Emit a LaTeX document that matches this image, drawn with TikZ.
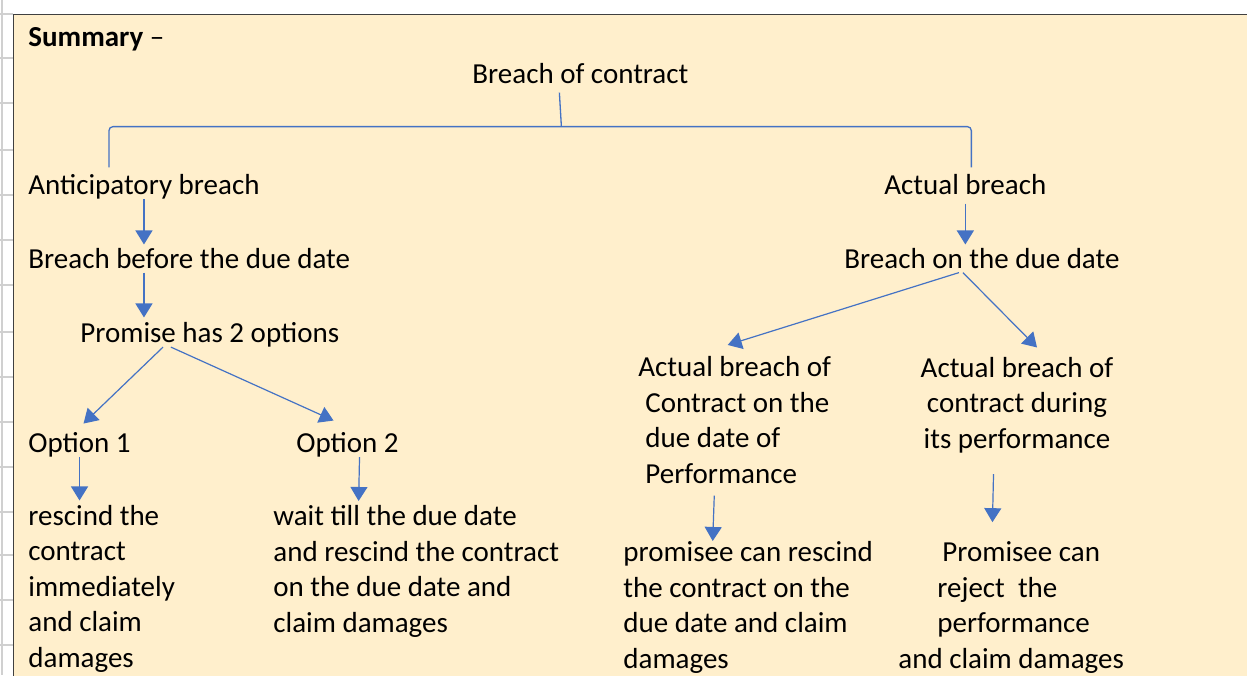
\documentclass[tikz,border=0pt]{standalone}
\usepackage{fontspec}
\setmainfont{Carlito}
\usetikzlibrary{arrows.meta,calc}
\definecolor{notefill}{HTML}{FFEFCC}
\definecolor{arrblue}{HTML}{4472C4}
\definecolor{gridgray}{HTML}{D0D0D0}
\definecolor{framegray}{HTML}{404040}
\tikzset{
  txt/.style={anchor=base west,inner sep=0pt,align=left,font=\fontsize{14.5}{17.75}\selectfont},
  ctxt/.style={txt,anchor=base,align=center},
  arr/.style={-{Triangle[length=7pt,width=8.5pt]},arrblue,line width=0.6pt},
  brk/.style={arrblue,line width=0.65pt,rounded corners=2pt}
}
\begin{document}
\begin{tikzpicture}[x=0.5pt,y=-0.5pt]
  \useasboundingbox (0,0) rectangle (1247,675);
  % Sheet grid at the left
  \draw[gridgray,line width=1pt] (1.5,0) -- (1.5,675);
  \foreach \gy in {14,58,103,150,195,240,285,332,377,422,467,512,555,600,645}
    \draw[gridgray,line width=1pt] (0,\gy) -- (13,\gy);
  % Note box
  \draw[framegray,fill=notefill,line width=0.75pt] (13.5,14.5) rectangle (1260,690);

  % Headings
  \node[txt] (sum) at (28,46) {\textbf{Summary} –};
  \node[txt] (boc) at (472,83) {Breach of contract};
  \node[txt] (ant) at (28,194) {Anticipatory breach};
  \node[txt] (act) at (884,194) {Actual breach};
  \node[txt] (bbd) at (28,268) {Breach before the due date};
  \node[txt] (bod) at (844,268) {Breach on the due date};

  % Anticipatory branch (multi-line nodes sit on their last line)
  \node[txt] (prm) at (80,342) {Promise has 2 options};
  \node[txt] (op1) at (28,452) {Option 1};
  \node[txt] (op2) at (296,452) {Option 2};
  \node[txt] (rsc) at (28,667) {rescind the\\contract\\immediately\\and claim\\damages};
  \node[txt] (wt) at (273,632) {wait till the due date\\and rescind the contract\\on the due date and\\claim damages};

  % Actual branch
  \node[txt] (ab1) at (638,483) {Actual breach of\\\hspace*{3.5pt}Contract on the\\\hspace*{3.5pt}due date of\\\hspace*{3.5pt}Performance};
  \node[ctxt] (ab2) at (1017,448) {Actual breach of\\contract during\\its performance};
  \node[txt] (prs) at (623,668) {promisee can rescind\\the contract on the\\due date and claim\\damages};
  \node[txt] (rej) at (937,668) {\hspace*{2.5pt}Promisee can\\reject\ \ the\\performance\\\hspace*{-19.5pt}and claim damages};

  % Top bracket
  \draw[brk] ($(boc.south)+(-21,9)$) -- ($(boc.south)+(-19,43)$);
  \draw[brk] ($(ant.north)+(-35,-6)$) |- ($(boc.south)+(0,43)$) -| ($(act.north)+(6,-6)$);

  % Arrows
  \draw[arr,shorten >=1.5pt] (ant.south) -- (ant.south |- bbd.north);
  \draw[arr,shorten <=2pt,shorten >=2pt] (ant.south |- bbd.south) -- (ant.south |- prm.north);
  \draw[arr,shorten <=4.5pt,shorten >=1.5pt] (act.south) -- (act.south |- bod.north);
  \draw[arr] ($(prm.south west)!0.32!(prm.south east)$) -- ($(op1.north)+(4,-8)$);
  \draw[arr] ($(prm.south west)!0.35!(prm.south east)$) -- ($(op2.north)+(-14,-11)$);
  \draw[arr] ($(bod.south)+(-23,4)$) -- ($(ab1.north)+(-7,-11)$);
  \draw[arr] ($(bod.south)+(-19,4)$) -- ($(ab2.north)+(20,-9)$);
  \draw[arr,shorten >=2pt] (op1.south) -- (op1.south |- rsc.north);
  \draw[arr,shorten >=2pt] ($(op2.south)+(12,0)$) -- ($(op2.south |- wt.north)+(11,0)$);
  \draw[arr,shorten <=6pt] ($(ab1.south)+(-20,0)$) -- ($(ab1.south |- prs.north)+(-22,0)$);
  \draw[arr,shorten <=10.5pt,shorten >=9.5pt] ($(ab2.south)+(-23,0)$) -- ($(ab2.south |- rej.north)+(-25,0)$);
\end{tikzpicture}
\end{document}
